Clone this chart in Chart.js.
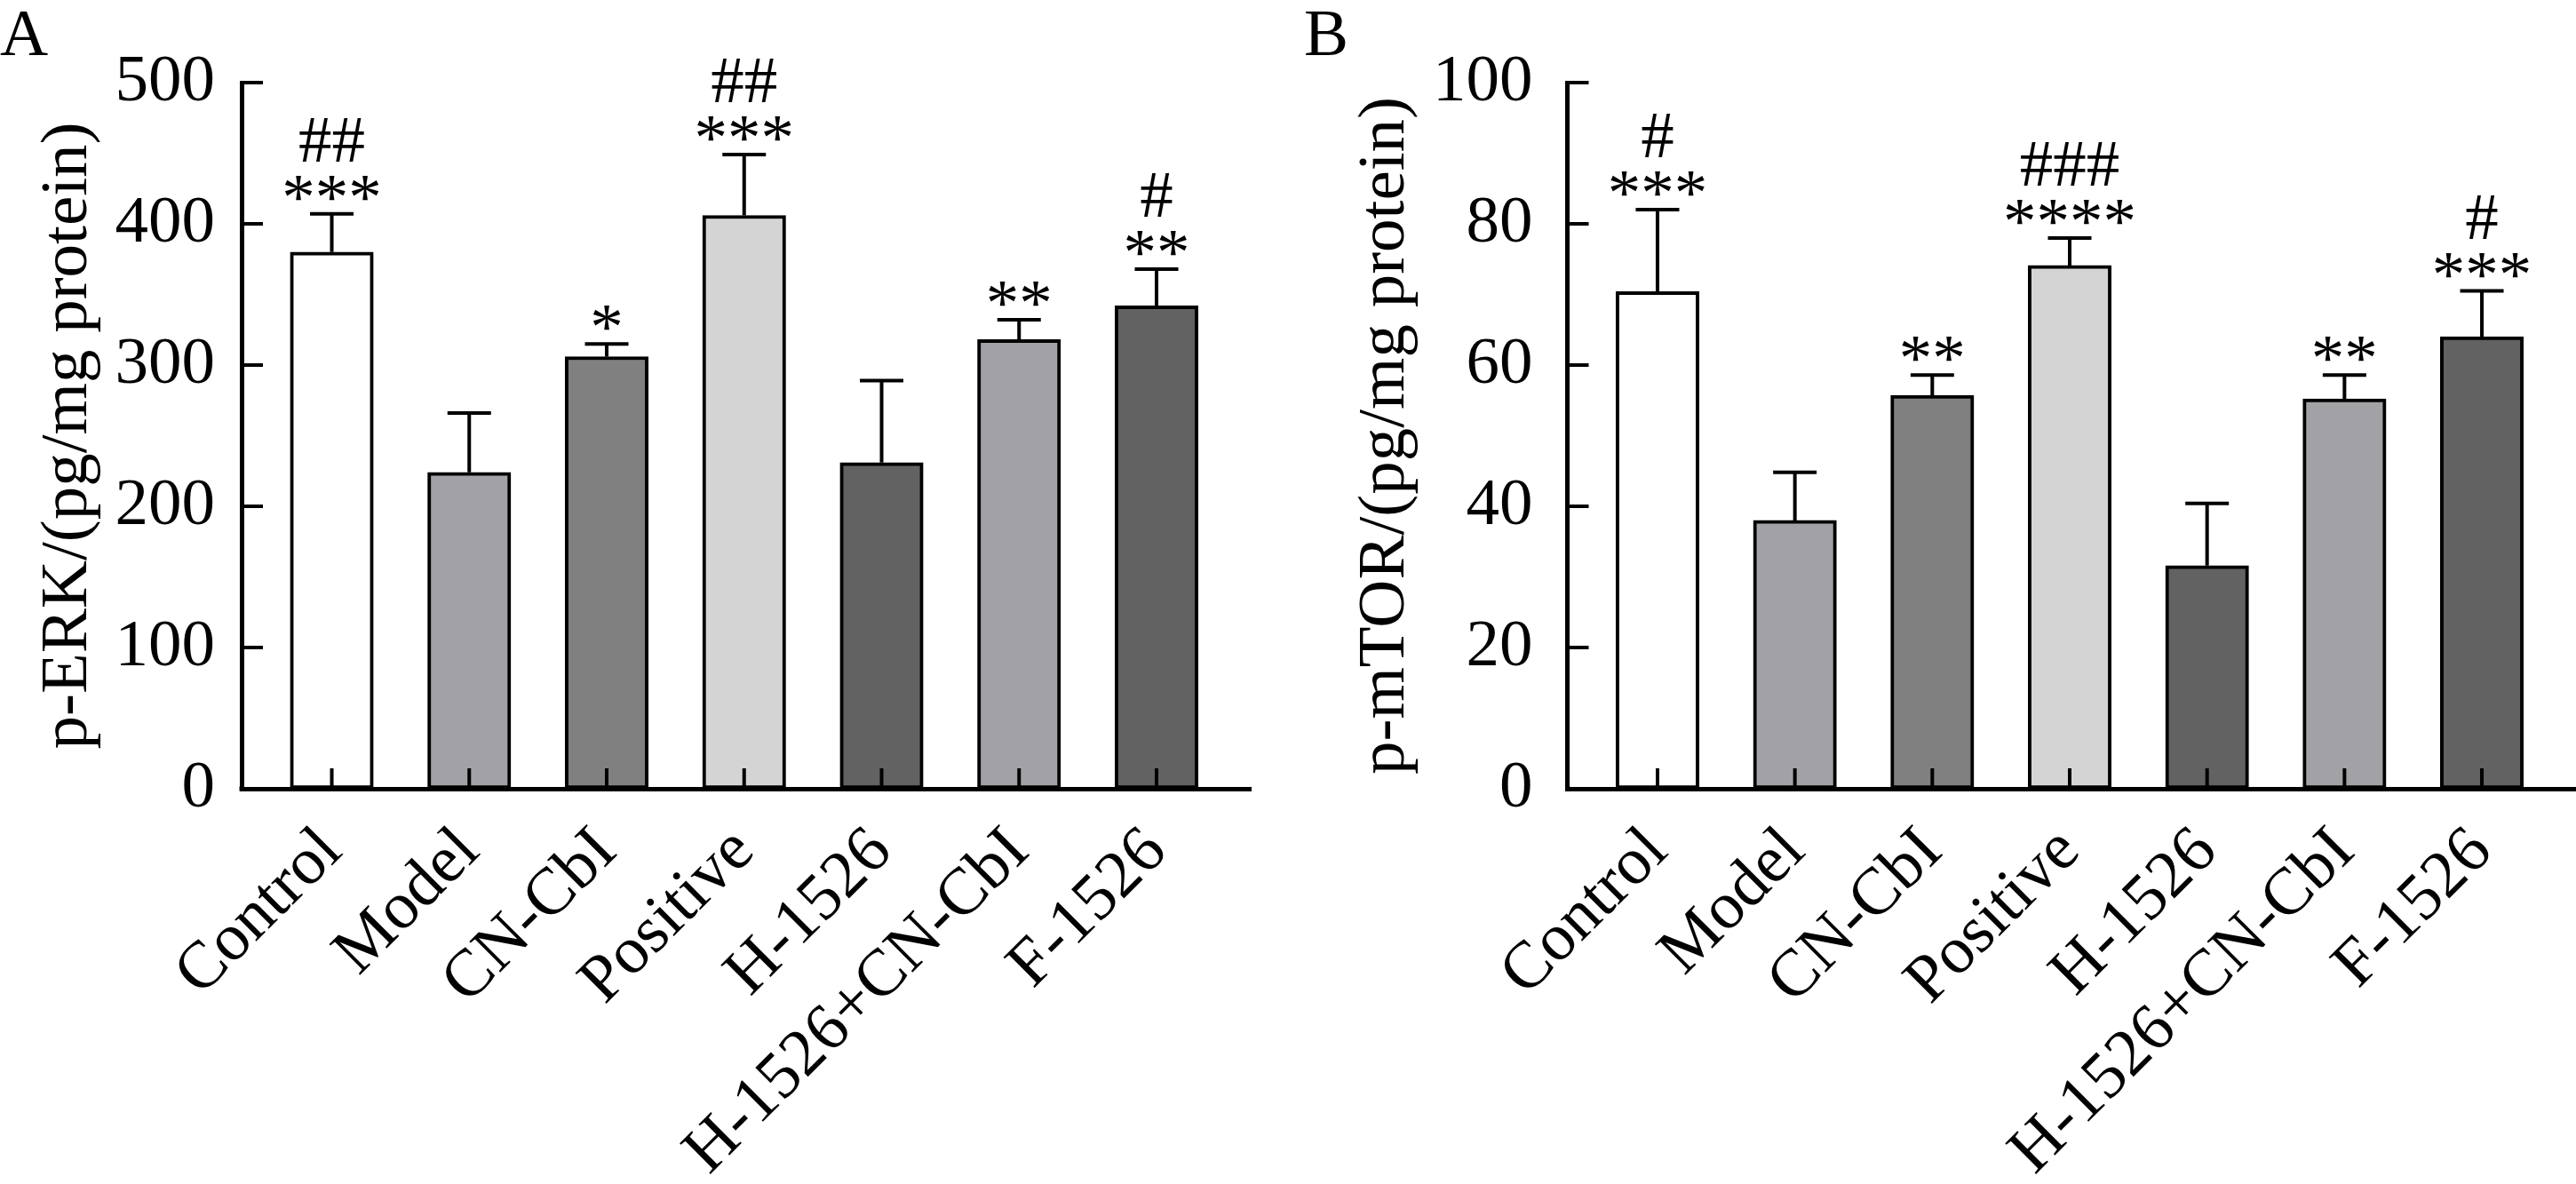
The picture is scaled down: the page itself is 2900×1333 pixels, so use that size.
<!DOCTYPE html>
<html><head><meta charset="utf-8">
<script src="https://cdn.jsdelivr.net/npm/chart.js@4.4.1/dist/chart.umd.min.js"></script>
<style>
html,body{margin:0;padding:0;background:#fff;width:2900px;height:1333px;overflow:hidden}
.panel{position:absolute;top:0;width:1450px;height:1333px}
#pa{left:0}#pb{left:1450px}
canvas{display:block}
</style></head><body>
<div class="panel" id="pa"><canvas id="ca" width="1450" height="1333"></canvas></div>
<div class="panel" id="pb"><canvas id="cb" width="1450" height="1333"></canvas></div>
<script>
const categories = ['Control','Model','CN-CbI','Positive','H-1526','H-1526+CN-CbI','F-1526'];
const barColors = ['#ffffff','#a2a1a6','#808080','#d4d4d4','#626262','#a2a1a6','#626262'];

const erkMean = [380, 224, 306, 406, 231, 318, 342];
const erkErr = [27, 42, 9, 43, 58, 14, 26];
const erkStars = ['***','','*','***','','**','**'];
const erkHashes = ['##','','','##','','','#'];
const erkMax = 500, erkStep = 100;

const mtorMean = [70.4, 38.0, 55.7, 74.1, 31.6, 55.2, 64.0];
const mtorErr = [11.6, 6.8, 2.9, 3.9, 8.8, 3.4, 6.5];
const mtorStars = ['***','','**','****','','**','***'];
const mtorHashes = ['#','','','###','','','#'];
const mtorMax = 100, mtorStep = 20;

const FONT = 'Liberation Serif';
Chart.defaults.font.family = FONT;
Chart.defaults.color = '#000';

const decor = {
  id: 'decor',
  afterDatasetsDraw(chart, args, o) {
    const ctx = chart.ctx, xs = chart.scales.x, ys = chart.scales.y, area = chart.chartArea;
    ctx.save();
    ctx.strokeStyle = '#000';
    ctx.fillStyle = '#000';
    ctx.lineWidth = 4;
    ctx.lineCap = 'butt';
    ctx.font = '75px "' + FONT + '"';
    ctx.textAlign = 'center';
    ctx.textBaseline = 'alphabetic';
    o.means.forEach((m, i) => {
      const px = xs.getPixelForValue(i);
      const y0 = ys.getPixelForValue(m);
      const y1 = ys.getPixelForValue(m + o.errs[i]);
      ctx.beginPath();
      ctx.moveTo(px, y0); ctx.lineTo(px, y1);
      ctx.moveTo(px - 24.5, y1); ctx.lineTo(px + 24.5, y1);
      ctx.stroke();
      ctx.beginPath();
      ctx.moveTo(px, area.bottom); ctx.lineTo(px, area.bottom - 23);
      ctx.stroke();
      const sb = y1 + 6;
      if (o.stars[i]) ctx.fillText(o.stars[i], px, sb);
      if (o.hashes[i]) ctx.fillText(o.hashes[i], px, sb - 65);
    });
    ys.ticks.forEach(t => {
      const py = ys.getPixelForValue(t.value);
      ctx.beginPath();
      ctx.moveTo(area.left, py); ctx.lineTo(area.left + 24, py);
      ctx.stroke();
    });
    ctx.lineWidth = 5;
    ctx.beginPath();
    ctx.moveTo(area.left - 2.5, area.bottom); ctx.lineTo(area.left + 3, area.bottom);
    ctx.stroke();
    ctx.textAlign = 'left';
    ctx.fillText(o.letter, o.letterX, 62);
    ctx.restore();
  }
};

function makeChart(id, cfg) {
  const font = {family: FONT, size: 75};
  return new Chart(document.getElementById(id), {
    type: 'bar',
    data: {
      datasets: [{
        data: categories.map((c, i) => ({x: i, y: cfg.means[i]})),
        backgroundColor: barColors,
        borderColor: '#000',
        borderWidth: 4,
        borderSkipped: false,
        barThickness: 93.5
      }]
    },
    options: {
      responsive: false,
      animation: false,
      devicePixelRatio: 1,
      layout: {padding: {left: 0, right: cfg.padRight, top: 93, bottom: 0}},
      plugins: {
        legend: {display: false},
        tooltip: {enabled: false},
        decor: {means: cfg.means, errs: cfg.errs, stars: cfg.stars, hashes: cfg.hashes, letter: cfg.letter, letterX: cfg.letterX}
      },
      scales: {
        x: {
          type: 'linear',
          min: -0.656, max: 6.685,
          offset: false,
          grid: {display: false},
          border: {display: true, color: '#000', width: 5},
          ticks: {
            stepSize: 1, includeBounds: false, autoSkip: false,
            minRotation: 45, maxRotation: 45, padding: 19,
            color: '#000', font: font,
            callback: (v) => (categories[v] !== undefined ? categories[v] : '')
          },
          afterFit: (s) => { s.height = 445; }
        },
        y: {
          min: 0, max: cfg.max,
          grid: {display: false},
          border: {display: true, color: '#000', width: 5},
          ticks: {stepSize: cfg.step, padding: cfg.tickPad, color: '#000', font: font},
          title: {display: true, text: cfg.title, color: '#000', font: font, padding: {top: cfg.titlePad, bottom: 0}},
          afterFit: (s) => { s.width = cfg.yWidth; }
        }
      }
    },
    plugins: [decor]
  });
}

makeChart('ca', {
  means: erkMean, errs: erkErr, stars: erkStars, hashes: erkHashes,
  max: erkMax, step: erkStep, title: 'p-ERK/(pg/mg protein)',
  yWidth: 272, titlePad: 32, tickPad: 22, padRight: 42, letter: 'A', letterX: 0
});
makeChart('cb', {
  means: mtorMean, errs: mtorErr, stars: mtorStars, hashes: mtorHashes,
  max: mtorMax, step: mtorStep, title: 'p-mTOR/(pg/mg protein)',
  yWidth: 314.5, titlePad: 65, tickPad: 31, padRight: 0, letter: 'B', letterX: 18
});
</script>
</body></html>
